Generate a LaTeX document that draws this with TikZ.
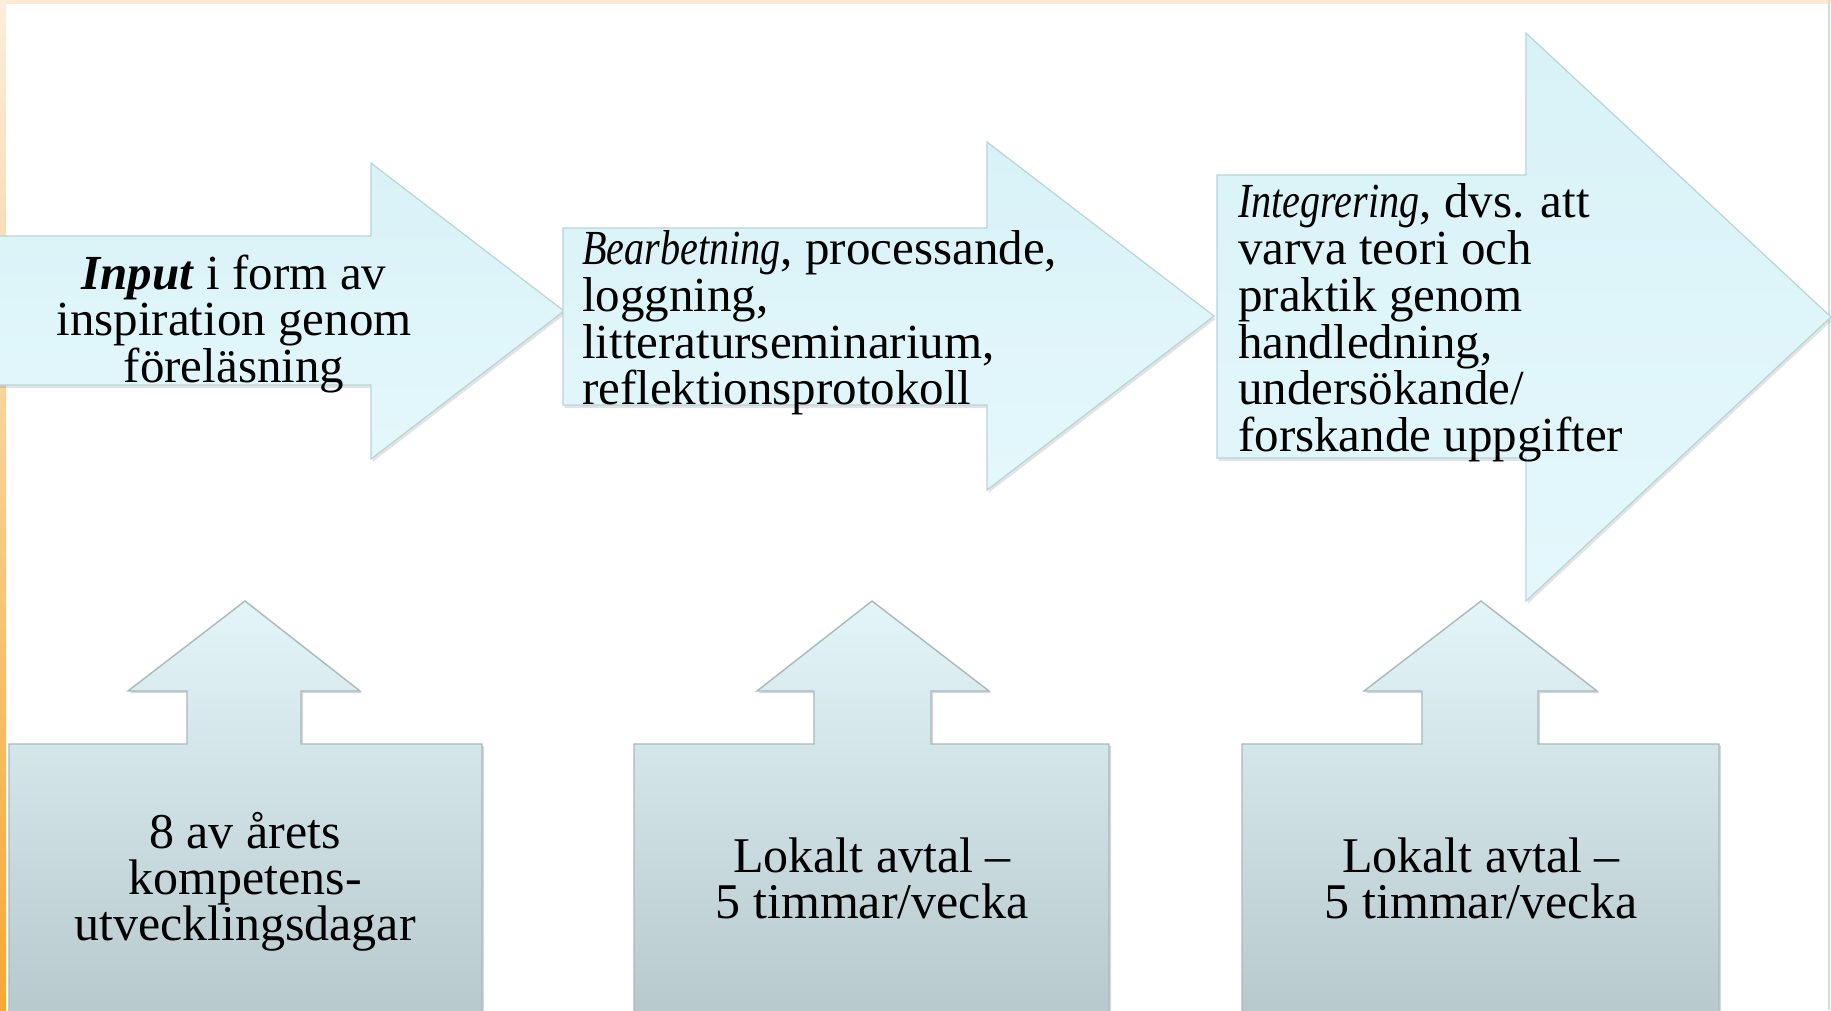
\documentclass[tikz,border=0pt]{standalone}
\usepackage{fontspec}
\setmainfont{Liberation Serif}
\usetikzlibrary{shadows}
\definecolor{arrowfillA}{HTML}{E4F8FC}
\definecolor{arrowfillB}{HTML}{D8F2F7}
\definecolor{arrowline}{HTML}{B8D4DA}
\definecolor{boxtop}{HTML}{E3F5F8}
\definecolor{boxbot}{HTML}{B8C9CD}
\definecolor{boxline}{HTML}{A6BABF}
\definecolor{orangetop}{HTML}{FAEEDD}
\definecolor{orangebot}{HTML}{F5A833}
\definecolor{peach}{HTML}{FCEAD2}
\definecolor{rightedge}{HTML}{D3DDE1}
\newcommand\condit[1]{{\itshape\addfontfeatures{FakeStretch=0.82}#1}}
\tikzset{
  bigarrow/.style={top color=arrowfillB, bottom color=arrowfillA, draw=arrowline, line width=1.2pt, line join=miter,
    drop shadow={shadow xshift=1.5pt, shadow yshift=-3pt, opacity=0.18, fill=black!60}},
  callout/.style={top color=boxtop, bottom color=boxbot, draw=boxline, line width=1.4pt, line join=miter,
    drop shadow={shadow xshift=2pt, shadow yshift=-2pt, opacity=0.25, fill=black!60}},
  toptext/.style={inner sep=0pt, font=\fontsize{49}{46.7}\selectfont, text=black},
  boxtext/.style={inner sep=0pt, font=\fontsize{50}{46}\selectfont, text=black, align=center},
}
\begin{document}
\begin{tikzpicture}[x=1pt,y=-1pt]
\useasboundingbox (0,0) rectangle (1831,1010);
\clip (0,0) rectangle (1831,1010);
\fill[white] (0,0) rectangle (1831,1010);
% page edges
\fill[peach] (0,0) rectangle (1831,4);
\shade[top color=orangetop, bottom color=orangebot] (0,0) rectangle (6,1010);
\draw[rightedge, line width=1.5pt] (1829,0) -- (1829,1010);

% big arrows
\draw[bigarrow] (-5,236) -- (371,236) -- (371,163) -- (564,311) -- (371,459) -- (371,385) -- (-5,385) -- cycle;
\draw[bigarrow] (563,228) -- (987,228) -- (987,142) -- (1214,316) -- (987,490) -- (987,405) -- (563,405) -- cycle;
\draw[bigarrow] (1217,175) -- (1526,175) -- (1526,33) -- (1831,317) -- (1526,601) -- (1526,458) -- (1217,458) -- cycle;

% callouts
\draw[callout] (9,1015) -- (9,744) -- (187,744) -- (187,691) -- (128,691) -- (245,601) -- (360,691) -- (301,691) -- (301,744) -- (482,744) -- (482,1015);
\draw[callout] (634,1015) -- (634,744) -- (814,744) -- (814,691) -- (757,691) -- (872,601) -- (989,691) -- (931,691) -- (931,744) -- (1109,744) -- (1109,1015);
\draw[callout] (1242,1015) -- (1242,744) -- (1422,744) -- (1422,691) -- (1364,691) -- (1481,601) -- (1597,691) -- (1538,691) -- (1538,744) -- (1719,744) -- (1719,1015);

% texts
\node[toptext, align=center] (t1) at (234,324) {\textbf{\textit{Input}} i form av\\inspiration genom\\föreläsning};
\node[toptext, align=left, anchor=west] (t2) at (582,323) {\condit{Bearbetning}, processande,\\loggning,\\litteraturseminarium,\\reflektionsprotokoll};
\node[toptext, align=left, anchor=west] (t3) at (1238,323) {\condit{Integrering}, dvs. att\\varva teori och\\praktik genom\\handledning,\\undersökande/\\forskande uppgifter};
\node[boxtext] (b1) at (245,882) {8 av årets\\kompetens-\\utvecklingsdagar};
\node[boxtext] (b2) at (872,878) {Lokalt avtal –\\5 timmar/vecka};
\node[boxtext] (b3) at (1481,878) {Lokalt avtal –\\5 timmar/vecka};
\end{tikzpicture}
\end{document}
